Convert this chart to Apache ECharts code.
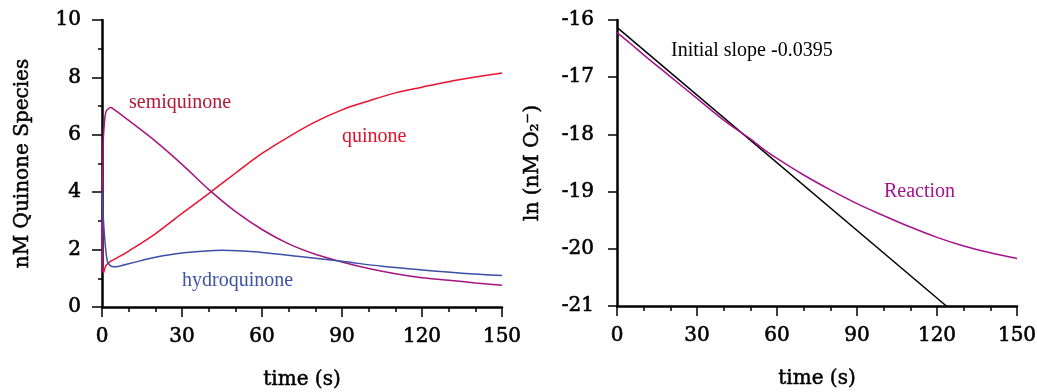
<!DOCTYPE html>
<html>
<head>
<meta charset="utf-8">
<script src="https://cdn.jsdelivr.net/npm/echarts@6/dist/echarts.min.js"></script>
<style>
  html, body { margin: 0; padding: 0; background: #fff; }
  #chart { width: 1037px; height: 392px; }
</style>
</head>
<body>
<div id="chart"></div>
<script>
// left panel: quinone species, [time s, nM]
var quinone = [[0, 3.0], [0.6, 1.2], [1.5, 1.45], [3, 1.58], [5, 1.68], [10, 1.95], [20, 2.55], [30, 3.26],
  [40, 3.95], [50, 4.66], [60, 5.35], [70, 5.93], [80, 6.45], [90, 6.87], [100, 7.18], [110, 7.46],
  [120, 7.66], [130, 7.85], [140, 8.01], [150, 8.15]];
var semiquinone = [[0, 1.2], [0.4, 5.6], [0.8, 6.3], [1.5, 6.8], [3.3, 6.95], [5, 6.85], [10, 6.5],
  [20, 5.78], [30, 4.97], [40, 4.1], [50, 3.33], [60, 2.7], [70, 2.2], [80, 1.84], [90, 1.57],
  [100, 1.34], [110, 1.16], [120, 1.02], [130, 0.93], [140, 0.84], [150, 0.76]];
var hydroquinone = [[0, 4.0], [1, 2.4], [2, 1.6], [3, 1.45], [4.5, 1.4], [10, 1.51], [20, 1.73], [30, 1.88],
  [45, 1.98], [60, 1.9], [75, 1.75], [90, 1.59], [105, 1.42], [120, 1.29], [135, 1.18], [150, 1.1]];

// right panel: ln(nM O2-) vs time
var reaction = [[0, -16.22], [5, -16.41], [10, -16.61], [20, -16.99], [30, -17.37], [40, -17.75],
  [50, -18.08], [55, -18.26], [60, -18.42], [70, -18.71], [80, -18.97], [90, -19.21], [100, -19.42],
  [110, -19.62], [120, -19.8], [130, -19.95], [140, -20.07], [150, -20.17]];
var initialSlope = [[0, -16.13], [123.5, -21]];

var chart = echarts.init(document.getElementById('chart'));

var tickFont = { fontFamily: 'DejaVu Serif', fontSize: 20, color: '#000', textBorderColor: '#000', textBorderWidth: 0.6 };
var nameFont = { fontFamily: 'DejaVu Serif', fontSize: 20, color: '#000', textBorderColor: '#000', textBorderWidth: 0.5 };
var axisLine = { show: true, lineStyle: { color: '#000', width: 2.5 } };

function xAxis(idx) {
  return {
    type: 'value', gridIndex: idx, min: 0, max: 150, interval: 30,
    name: 'time (s)', nameLocation: 'middle', nameGap: 63, nameTextStyle: nameFont,
    axisLine: axisLine,
    axisTick: { show: true, length: 10, lineStyle: { color: '#000', width: 1.5 } },
    minorTick: { show: true, splitNumber: 3, length: 5, lineStyle: { color: '#000', width: 1.5 } },
    axisLabel: Object.assign({ margin: 20 }, tickFont),
    splitLine: { show: false }
  };
}

var option = {
  backgroundColor: '#fff',
  animation: false,
  grid: [
    { left: 102, top: 20, width: 400, height: 287, outerBoundsMode: 'none' },
    { left: 617, top: 20, width: 400, height: 286, outerBoundsMode: 'none' }
  ],
  xAxis: [xAxis(0), xAxis(1)],
  yAxis: [
    {
      type: 'value', gridIndex: 0, min: 0, max: 10, interval: 2,
      name: 'nM Quinone Species', nameLocation: 'middle', nameGap: 69, nameRotate: 90,
      nameTextStyle: nameFont,
      axisLine: axisLine,
      axisTick: { show: true, length: 10, lineStyle: { color: '#000', width: 1.5 } },
      minorTick: { show: true, splitNumber: 2, length: 4, lineStyle: { color: '#000', width: 1.5 } },
      axisLabel: Object.assign({ margin: 21 }, tickFont),
      splitLine: { show: false }
    },
    {
      type: 'value', gridIndex: 1, min: -21, max: -16, interval: 1,
      name: 'ln (nM O₂⁻)', nameLocation: 'middle', nameGap: 74, nameRotate: 90,
      nameTextStyle: nameFont,
      axisLine: axisLine,
      axisTick: { show: true, length: 9, lineStyle: { color: '#000', width: 1.5 } },
      axisLabel: Object.assign({ margin: 23 }, tickFont),
      splitLine: { show: false }
    }
  ],
  series: [
    {
      name: 'quinone', type: 'line', xAxisIndex: 0, yAxisIndex: 0, data: quinone,
      showSymbol: false, smooth: 0.35,
      lineStyle: { color: '#e8132f', width: 1.5 }
    },
    {
      name: 'semiquinone', type: 'line', xAxisIndex: 0, yAxisIndex: 0, data: semiquinone,
      showSymbol: false, smooth: 0.3,
      lineStyle: { color: '#a5147f', width: 1.5 }
    },
    {
      name: 'hydroquinone', type: 'line', xAxisIndex: 0, yAxisIndex: 0, data: hydroquinone,
      showSymbol: false, smooth: 0.35,
      lineStyle: { color: '#3b4fa6', width: 1.5 }
    },
    {
      name: 'Initial slope', type: 'line', xAxisIndex: 1, yAxisIndex: 1, data: initialSlope,
      showSymbol: false, lineStyle: { color: '#000', width: 1.5 }
    },
    {
      name: 'Reaction', type: 'line', xAxisIndex: 1, yAxisIndex: 1, data: reaction,
      showSymbol: false, smooth: 0.35,
      lineStyle: { color: '#a5128a', width: 1.5 }
    }
  ],
  graphic: [
    { type: 'text', left: 129, top: 93, style: { text: 'semiquinone', fill: '#b41735', font: '20px "Liberation Serif"' } },
    { type: 'text', left: 342, top: 127, style: { text: 'quinone', fill: '#e3102a', font: '20px "Liberation Serif"' } },
    { type: 'text', left: 182, top: 271, style: { text: 'hydroquinone', fill: '#3d52a8', font: '20px "Liberation Serif"' } },
    { type: 'text', left: 671, top: 41, style: { text: 'Initial slope -0.0395', fill: '#000', font: '20px "Liberation Serif"' } },
    { type: 'text', left: 884, top: 182, style: { text: 'Reaction', fill: '#a5128a', font: '20px "Liberation Serif"' } }
  ]
};

chart.setOption(option);
</script>
</body>
</html>
